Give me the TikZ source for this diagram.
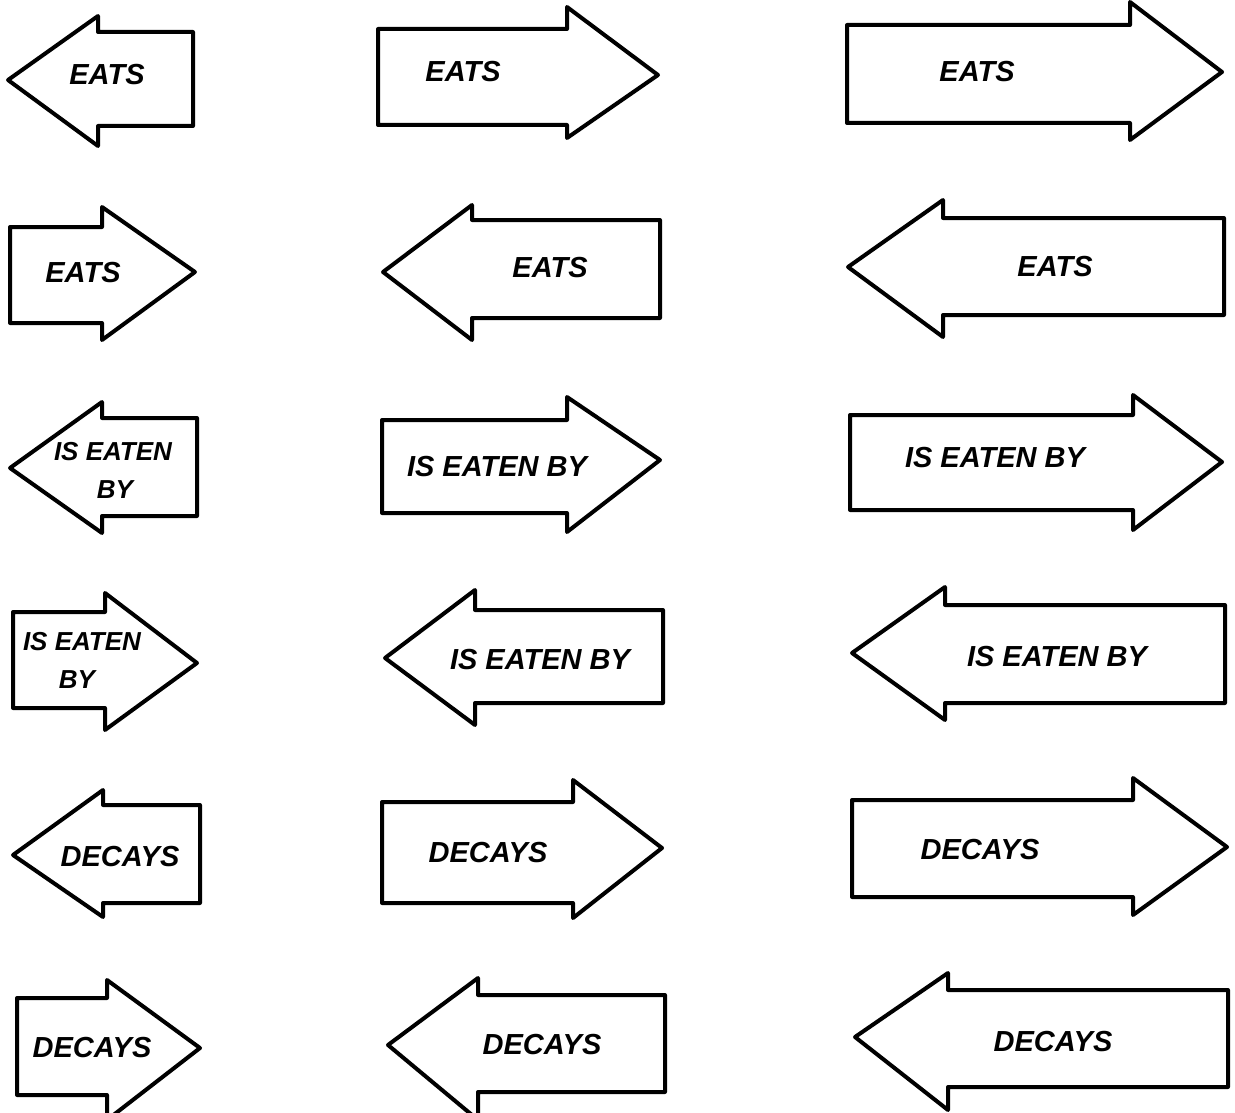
\documentclass[tikz,border=0pt]{standalone}
\usepackage{fontspec}
\newfontfamily\handfont{Liberation Sans}
\tikzset{
  arrowshape/.style={draw=black, line width=4pt, line join=round, line cap=round, fill=white},
  lbl/.style={font=\handfont\bfseries\itshape\fontsize{29}{31}\selectfont, inner sep=0pt, text=black},
  smalllbl/.style={font=\handfont\bfseries\itshape\fontsize{26}{28}\selectfont, inner sep=0pt, text=black, align=center}
}
% #1 tail x, #2 shaft top, #3 shaft bottom, #4 head base x, #5 head top, #6 head bottom, #7 tip x, #8 tip y
\newcommand{\fatarrow}[8]{%
  \draw[arrowshape] (#1,#2) -- (#4,#2) -- (#4,#5) -- (#7,#8) -- (#4,#6) -- (#4,#3) -- (#1,#3) -- cycle;}
\begin{document}
\begin{tikzpicture}[x=1pt,y=-1pt]
\useasboundingbox[fill=white] (0,0) rectangle (1235,1113);
\clip (0,0) rectangle (1235,1113);
% row 1
\fatarrow{193}{32}{126}{98}{16}{146}{8}{80}
\fatarrow{378}{29}{125}{567}{7}{138}{658}{75}
\fatarrow{847}{25}{123}{1130}{2}{140}{1222}{72}
\node[lbl] (t11) at (107,75) {EATS};
\node[lbl] (t12) at (463,72) {EATS};
\node[lbl] (t13) at (977,72) {EATS};
% row 2
\fatarrow{10}{227}{323}{102}{207}{340}{195}{272}
\fatarrow{660}{220}{318}{472}{205}{340}{383}{272}
\fatarrow{1224}{218}{315}{943}{200}{337}{848}{267}
\node[lbl] (t21) at (83,273) {EATS};
\node[lbl] (t22) at (550,268) {EATS};
\node[lbl] (t23) at (1055,267) {EATS};
% row 3
\fatarrow{197}{418}{516}{102}{402}{533}{10}{468}
\fatarrow{382}{420}{513}{567}{397}{532}{660}{460}
\fatarrow{850}{415}{510}{1133}{395}{530}{1222}{462}
\node[smalllbl] (t31a) at (113,452) {IS EATEN};
\node[smalllbl] (t31b) at (115,490) {BY};
\node[lbl] (t32) at (497,467) {IS EATEN BY};
\node[lbl] (t33) at (995,458) {IS EATEN BY};
% row 4
\fatarrow{13}{612}{708}{105}{593}{730}{197}{663}
\fatarrow{663}{610}{703}{475}{590}{725}{385}{658}
\fatarrow{1225}{605}{703}{945}{587}{720}{852}{653}
\node[smalllbl] (t41a) at (82,642) {IS EATEN};
\node[smalllbl] (t41b) at (77,680) {BY};
\node[lbl] (t42) at (540,660) {IS EATEN BY};
\node[lbl] (t43) at (1057,657) {IS EATEN BY};
% row 5
\fatarrow{200}{805}{903}{103}{790}{917}{13}{855}
\fatarrow{382}{802}{903}{573}{780}{918}{662}{848}
\fatarrow{852}{800}{897}{1133}{778}{915}{1227}{847}
\node[lbl] (t51) at (120,857) {DECAYS};
\node[lbl] (t52) at (488,853) {DECAYS};
\node[lbl] (t53) at (980,850) {DECAYS};
% row 6
\fatarrow{17}{998}{1095}{107}{980}{1120}{200}{1048}
\fatarrow{665}{995}{1092}{478}{978}{1120}{388}{1045}
\fatarrow{1228}{990}{1087}{948}{973}{1110}{855}{1037}
\node[lbl] (t61) at (92,1048) {DECAYS};
\node[lbl] (t62) at (542,1045) {DECAYS};
\node[lbl] (t63) at (1053,1042) {DECAYS};
\end{tikzpicture}
\end{document}
